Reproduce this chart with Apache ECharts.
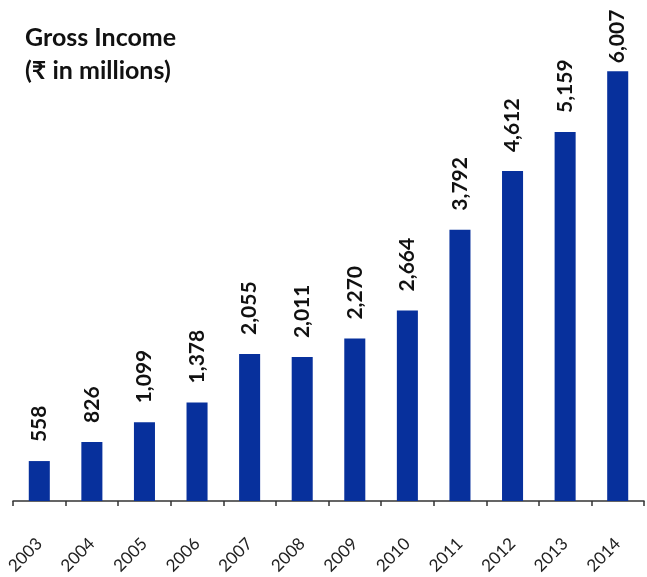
<!DOCTYPE html>
<html>
<head>
<meta charset="utf-8">
<script src="https://cdn.jsdelivr.net/npm/echarts@6/dist/echarts.min.js"></script>
<style>
  html, body { margin: 0; padding: 0; background: #fff; }
  #chart { width: 647px; height: 577px; }
</style>
</head>
<body>
<div id="chart"></div>
<script>
// Gross income by year, ₹ in millions
const years = ['2003', '2004', '2005', '2006', '2007', '2008', '2009', '2010', '2011', '2012', '2013', '2014'];
const grossIncome = [558, 826, 1099, 1378, 2055, 2011, 2270, 2664, 3792, 4612, 5159, 6007];

// the tallest bar's label sits closer to its bar so it stays inside the canvas
const peak = Math.max(...grossIncome);
const barData = grossIncome.map(v => (v === peak ? { value: v, label: { distance: 8 } } : v));

const chart = echarts.init(document.getElementById('chart'));

chart.setOption({
  animation: false,
  backgroundColor: '#ffffff',
  title: {
    text: 'Gross Income\n(₹ in millions)',
    left: 20,
    top: 16,
    textStyle: {
      fontFamily: 'Lato, "Noto Sans", sans-serif',
      fontWeight: 'bold',
      fontSize: 25,
      lineHeight: 33,
      color: '#111111'
    }
  },
  grid: { left: 13, right: 3, top: 36, bottom: 75 },
  xAxis: {
    type: 'category',
    data: years,
    axisLine: { show: true, lineStyle: { color: '#333333', width: 1.5 } },
    axisTick: { show: true, alignWithLabel: false, length: 5, lineStyle: { color: '#333333', width: 1.5 } },
    axisLabel: {
      rotate: 45,
      margin: 40,
      fontFamily: 'Lato, "Noto Sans", sans-serif',
      fontSize: 17,
      color: '#222222'
    }
  },
  yAxis: {
    type: 'value',
    min: 0,
    max: 6500,
    show: false,
    splitLine: { show: false }
  },
  series: [{
    type: 'bar',
    data: barData,
    barWidth: '40%',
    itemStyle: { color: '#07309c' },
    label: {
      show: true,
      position: 'top',
      rotate: 90,
      align: 'left',
      verticalAlign: 'middle',
      distance: 19,
      fontFamily: 'Lato, "Noto Sans", sans-serif',
      fontWeight: 'bold',
      fontSize: 21,
      color: '#111111',
      formatter: p => p.value.toLocaleString('en-US')
    }
  }]
});
</script>
</body>
</html>
